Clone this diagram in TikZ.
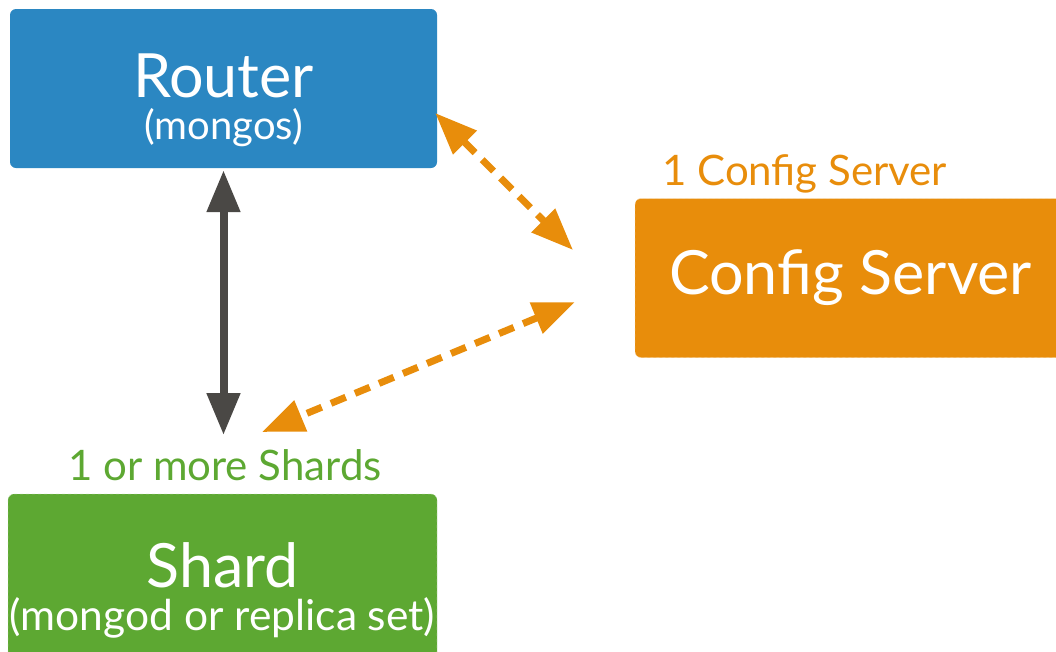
\documentclass[tikz,border=0pt]{standalone}
\usepackage{fontspec}
\setmainfont{Lato}
\usetikzlibrary{positioning, arrows.meta}
\definecolor{rtblue}{HTML}{2B87C2}
\definecolor{cfgorange}{HTML}{E88D0B}
\definecolor{shgreen}{HTML}{5DA832}
\definecolor{arrgray}{HTML}{4A4845}
\newcommand{\bigtxt}[1]{{\fontsize{61}{42}\selectfont #1}}

\begin{document}
\begin{tikzpicture}[
    x=1pt, y=-1pt,
    box/.style={rectangle, rounded corners=6pt, inner sep=0pt, align=center, text=white, font=\fontsize{40}{42}\selectfont},
    rtr/.style={box, fill=rtblue, minimum width=427pt, minimum height=159pt},
    cfg/.style={box, fill=cfgorange, draw=cfgorange!40!white, dashed, minimum width=431pt, minimum height=159pt},
    shd/.style={box, fill=shgreen, draw=shgreen!40!white, dashed, minimum width=429pt, minimum height=171pt, font=\fontsize{42.5}{43}\selectfont},
    lbl/.style={anchor=base west, inner sep=0pt, font=\fontsize{42}{44}\selectfont},
    link/.style={{Triangle[length=42pt,width=32pt]}-{Triangle[length=42pt,width=32pt]}, line width=8pt, draw=arrgray},
    cfglink/.style={{Triangle[length=42pt,width=32pt]}-{Triangle[length=42pt,width=32pt]}, line width=7pt, draw=cfgorange, dash pattern=on 16pt off 10pt}
]
\useasboundingbox (0,0) rectangle (1056,651);

\node[rtr] (router) at (223.5,88.5) {\rule{0pt}{68pt}\bigtxt{Router}\\(mongos)};
\node[cfg] (cfgsrv) at (850.5,278) {\bigtxt{Config Server}};
\node[shd] (shard) at (222.5,579.5) {\rule{0pt}{66pt}\bigtxt{Shard}\\(mongod or replica set)};

\node[lbl, text=cfgorange] (cfg_l) at (662,185) {1 Config Server};
\node[lbl, text=shgreen] (shard_l) at (68,480) {1 or more Shards};

\coordinate (cfg_up) at (573,250);
\coordinate (cfg_dn) at (575,302);
\coordinate (shard_in) at (262,432);
\coordinate (shard_top) at (224,435);

\draw[link] ([yshift=-2pt]router.south) -- (router.south |- shard_top);
\draw[cfglink] ([xshift=-2pt,yshift=-24.5pt]router.east) -- (cfg_up);
\draw[cfglink] (cfg_dn) -- (shard_in);
\end{tikzpicture}
\end{document}
